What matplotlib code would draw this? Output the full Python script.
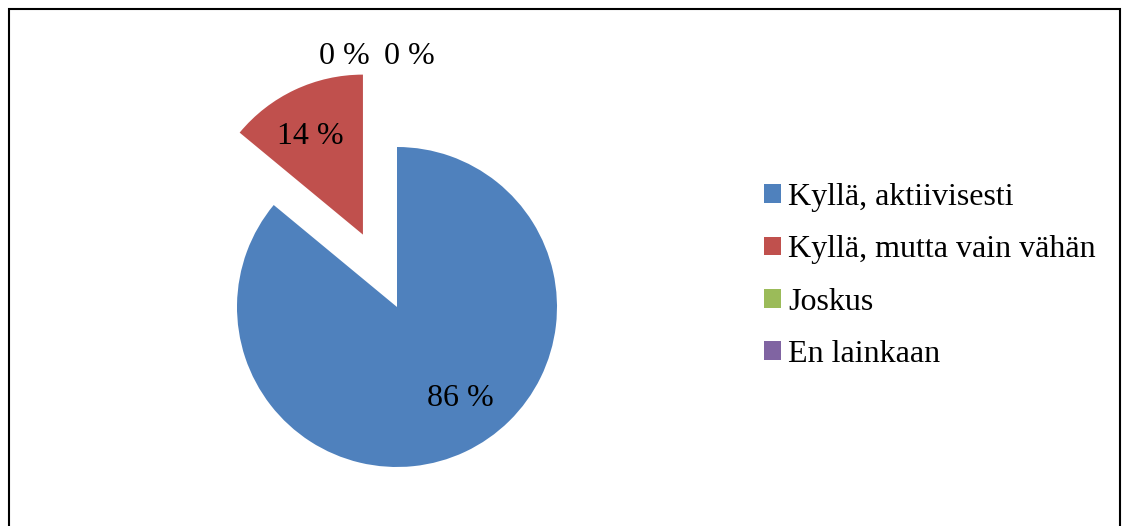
import matplotlib.pyplot as plt
from matplotlib.patches import Patch, Rectangle
import numpy as np

# Survey answers and their shares (%)
categories = ['Kyllä, aktiivisesti', 'Kyllä, mutta vain vähän', 'Joskus', 'En lainkaan']
shares = [86, 14, 0, 0]
colors = ['#4F81BD', '#C0504D', '#9BBB59', '#8064A2']
explode = [0, 0.5, 0, 0]

plt.rcParams['font.family'] = ['Liberation Serif', 'DejaVu Serif']
fs = 23

W, H = 1122, 526
fig = plt.figure(figsize=(W / 100, H / 100), dpi=100)

# Pie axes: centre at (397, 307) px from top-left, radius 160 px
cx, cy, R = 397, 307, 160
left_px, right_px = cx - 300, cx + 300
top_px, bot_px = cy - 300, cy + 200
ax = fig.add_axes([left_px / W, (H - bot_px) / H, (right_px - left_px) / W, (bot_px - top_px) / H])

wedges, texts, autotexts = ax.pie(
    shares, colors=colors, explode=explode, startangle=90, counterclock=False,
    autopct=lambda p: f'{p:.0f} %', pctdistance=0.7,
    textprops={'fontsize': fs, 'color': 'black'},
    wedgeprops={'linewidth': 0},
)
ax.set_xlim(-300 / R, 300 / R)
ax.set_ylim(-200 / R, 300 / R)
ax.set_aspect('equal')
ax.axis('off')

# nudge the slice labels a little
t = autotexts[0]
x, y = t.get_position()
t.set_position((x + 0.1, y + 0.06))
t = autotexts[1]
x, y = t.get_position()
t.set_position((x - 0.03, y - 0.02))

# zero-share labels go above the pie, side by side
zero_idx = [i for i, v in enumerate(shares) if v == 0]
for k, i in enumerate(zero_idx):
    autotexts[i].set_position((-0.33 + k * 0.41, 1.565))

handles = [Patch(facecolor=c, edgecolor='none') for c in colors]
fig.legend(handles, categories, loc='center left', bbox_to_anchor=(764 / W, 1 - 276 / H),
           frameon=False, fontsize=fs, handlelength=0.53, handleheight=0.53,
           handletextpad=0.22, labelspacing=0.73, borderpad=0, borderaxespad=0)

# outer frame, bottom edge runs off the image
fig.add_artist(Rectangle((9 / W, -0.05), (1120 - 9) / W, 1.05 - 9 / H,
                         transform=fig.transFigure, fill=False, edgecolor='black', linewidth=1.5))

fig.savefig('out.png', dpi=100)
